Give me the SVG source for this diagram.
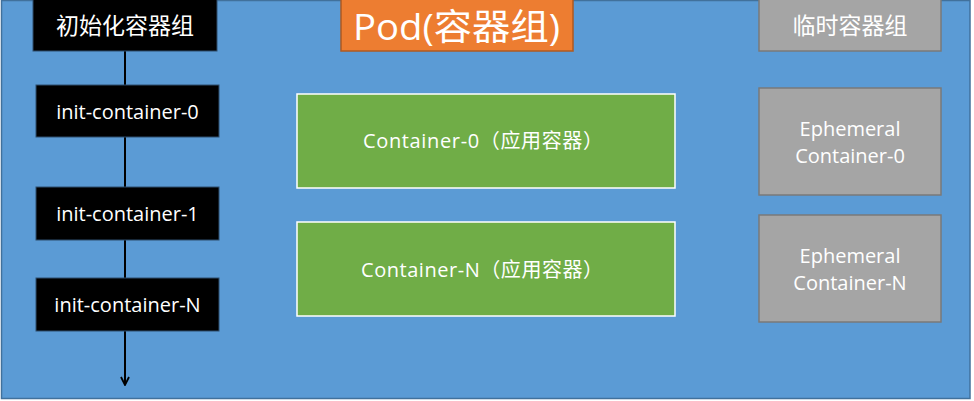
<svg xmlns="http://www.w3.org/2000/svg" width="974" height="401" viewBox="0 0 974 401">
<style>
.t{font-family:"Open Sans","Noto Sans CJK SC",sans-serif;fill:#fff;text-anchor:middle}
.ts{font-family:"Open Sans","Noto Sans CJK SC",sans-serif;fill:#fff;text-anchor:start}
.cjk{font-family:"Noto Sans CJK SC",sans-serif;fill:#fff;text-anchor:middle}
.blk{fill:#000;stroke:#2f4f6f;stroke-width:1}
.grn{fill:#70AD47;stroke:#fff;stroke-width:1.5}
.gry{fill:#A5A5A5;stroke:#7A7A7A;stroke-width:1.5}
.ln{stroke:#000;stroke-width:2;fill:none}
</style>
<defs>
<marker id="arr" viewBox="0 0 10 10" refX="9" refY="5" markerWidth="10" markerHeight="10" markerUnits="userSpaceOnUse" orient="auto">
<path d="M1,1 L9,5 L1,9" fill="none" stroke="#000" stroke-width="1.8"/>
</marker>
</defs>
<g id="pod-bg">
<rect x="1.5" y="0.5" width="968.5" height="398" fill="#5B9BD5" stroke="#41719C" stroke-width="1.5"/>
</g>
<g id="connectors">
<line class="ln" x1="125" y1="51" x2="125" y2="85"/>
<line class="ln" x1="125" y1="137" x2="125" y2="187"/>
<line class="ln" x1="125" y1="240" x2="125" y2="278"/>
<line class="ln" x1="125" y1="331" x2="125" y2="385" marker-end="url(#arr)"/>
</g>
<g id="init-group-title">
<rect class="blk" x="33" y="-1" width="184" height="52"/>
<text class="cjk" x="125" y="34" font-size="23">初始化容器组</text>
</g>
<g id="init-container-0">
<rect class="blk" x="36" y="85" width="183" height="52"/>
<text class="t" x="127.5" y="119" font-size="20">init-container-0</text>
</g>
<g id="init-container-1">
<rect class="blk" x="36" y="187" width="183" height="53"/>
<text class="t" x="127.5" y="221" font-size="20">init-container-1</text>
</g>
<g id="init-container-N">
<rect class="blk" x="36" y="278" width="183" height="53"/>
<text class="t" x="127.5" y="312" font-size="20">init-container-N</text>
</g>
<g id="pod-title">
<rect x="341" y="-1" width="232" height="52" fill="#ED7D31" stroke="#AE5A21" stroke-width="1.5"/>
<text class="ts" x="353" y="40" font-size="36" textLength="207" lengthAdjust="spacingAndGlyphs">Pod(容器组)</text>
</g>
<g id="container-0">
<rect class="grn" x="297" y="94" width="378" height="94"/>
<text class="ts" x="363" y="148" font-size="20" textLength="240" lengthAdjust="spacing">Container-0（应用容器）</text>
</g>
<g id="container-N">
<rect class="grn" x="297" y="222" width="378" height="94"/>
<text class="ts" x="361" y="277" font-size="20" textLength="242" lengthAdjust="spacing">Container-N（应用容器）</text>
</g>
<g id="ephemeral-group-title">
<rect class="gry" x="759" y="-1" width="182" height="52"/>
<text class="cjk" x="850" y="34" font-size="23">临时容器组</text>
</g>
<g id="ephemeral-container-0">
<rect class="gry" x="759" y="88" width="182" height="107"/>
<text class="t" x="850" y="136" font-size="20">Ephemeral</text>
<text class="t" x="850" y="163" font-size="20">Container-0</text>
</g>
<g id="ephemeral-container-N">
<rect class="gry" x="759" y="215" width="182" height="107"/>
<text class="t" x="850" y="263" font-size="20">Ephemeral</text>
<text class="t" x="850" y="290" font-size="20">Container-N</text>
</g>
</svg>
